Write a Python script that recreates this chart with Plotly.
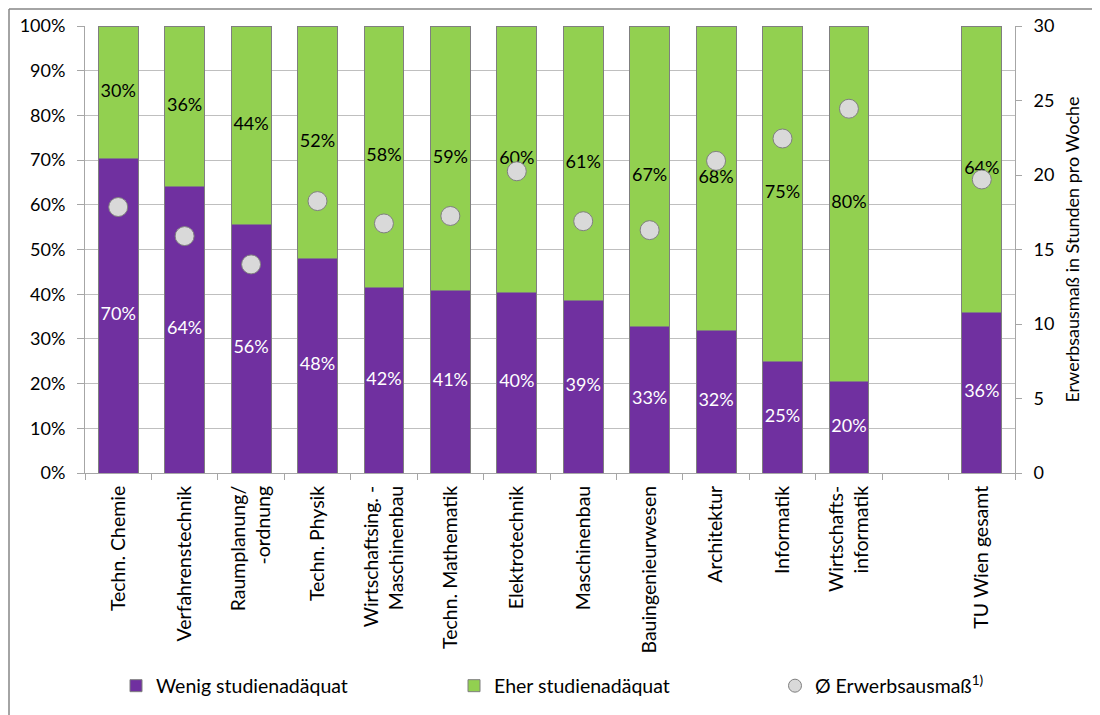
import plotly.graph_objects as go

categories = ["Techn. Chemie", "Verfahrenstechnik", "Raumplanung/<br>-ordnung", "Techn. Physik",
              "Wirtschaftsing. -<br>Maschinenbau", "Techn. Mathematik", "Elektrotechnik",
              "Maschinenbau", "Bauingenieurwesen", "Architektur", "Informatik",
              "Wirtschafts-<br>informatik", " ", "TU Wien gesamt"]
wenig = [70.4, 64.2, 55.5, 48.0, 41.6, 40.8, 40.3, 38.7, 32.8, 31.9, 25.0, 20.4, None, 36.0]
wenig_labels = ["70%", "64%", "56%", "48%", "42%", "41%", "40%", "39%", "33%", "32%", "25%", "20%", "", "36%"]
eher_labels = ["30%", "36%", "44%", "52%", "58%", "59%", "60%", "61%", "67%", "68%", "75%", "80%", "", "64%"]
erwerb = [17.85, 15.9, 14.0, 18.25, 16.75, 17.25, 20.25, 16.9, 16.3, 20.95, 22.45, 24.45, None, 19.7]

eher = [None if w is None else 100 - w for w in wenig]
purple = "#7030A0"
green = "#92D050"
edge = "#7F7F7F"
axc = "#A6A6A6"
FONT = "Lato"

fig = go.Figure()
fig.add_trace(go.Bar(x=categories, y=wenig, name="Wenig studienadäquat", legend="legend",
                     marker=dict(color=purple, line=dict(color=edge, width=1)),
                     hoverinfo="skip"))
fig.add_trace(go.Bar(x=categories, y=eher, name="Eher studienadäquat", legend="legend2",
                     marker=dict(color=green, line=dict(color=edge, width=1)),
                     hoverinfo="skip"))

# data labels centered in the segments
wmid = [None if w is None else w / 2 for w in wenig]
emid = [None if w is None else w + (100 - w) / 2 for w in wenig]
fig.add_trace(go.Scatter(x=categories, y=wmid, mode="text", text=wenig_labels,
                         textfont=dict(color="white", size=18, family=FONT),
                         showlegend=False, hoverinfo="skip"))
fig.add_trace(go.Scatter(x=categories, y=emid, mode="text", text=eher_labels,
                         textfont=dict(color="black", size=18, family=FONT),
                         showlegend=False, hoverinfo="skip"))

fig.add_trace(go.Scatter(x=categories, y=erwerb, mode="markers", yaxis="y2",
                         marker=dict(size=19, color="#D9D9D9", line=dict(color="#808080", width=1)),
                         showlegend=False, name="Ø Erwerbsausmaß"))
# legend entry for the markers
fig.add_trace(go.Scatter(x=[None], y=[None], mode="markers", yaxis="y2", legend="legend3",
                         name="Ø Erwerbsausmaß<sup>1)</sup>",
                         marker=dict(size=13, color="#D9D9D9", line=dict(color="#808080", width=1))))

# page body has an 8px margin: figure coords = screen coords - 8
OFF = 8
W, H = 1100, 715
SL, SR, ST, SB = 85, 1015, 26, 473   # plot area in screen pixels
L, T = SL - OFF, ST - OFF
R = W - (SR - OFF)
B = H - (SB - OFF)
pw, ph = W - L - R, H - T - B

def px_x(p):
    return (p - OFF - L) / pw

def px_y(p):
    return (H - B - (p - OFF)) / ph

leg_common = dict(orientation="h", xanchor="left", y=px_y(686), yanchor="middle", itemwidth=30,
                  font=dict(size=19.5, family=FONT), bgcolor="rgba(0,0,0,0)")

fig.update_layout(
    width=W, height=H,
    margin=dict(l=L, r=R, t=T, b=B, autoexpand=False),
    paper_bgcolor="white", plot_bgcolor="white",
    barmode="stack", bargap=0.4,
    font=dict(family=FONT, size=18, color="black"),
    xaxis=dict(type="category", range=[-0.5, len(categories) - 0.5], tickson="boundaries",
               ticks="outside", ticklen=6,
               tickcolor=axc, showline=True, linecolor=axc, tickangle=-90,
               tickfont=dict(size=19.5), showgrid=False, fixedrange=True, automargin=False,
               ticklabelstandoff=4),
    yaxis=dict(range=[0, 100], dtick=10, ticksuffix="%", ticks="outside", ticklen=7,
               tickcolor=axc, showline=True, linecolor=axc, automargin=False,
               gridcolor="#BFBFBF", gridwidth=1, zeroline=False, tickfont=dict(size=18),
               ticklabelstandoff=8),
    yaxis2=dict(range=[0, 30], dtick=5, overlaying="y", side="right", ticks="outside",
                ticklen=6, tickcolor=axc, showline=True, linecolor=axc, automargin=False,
                showgrid=False, zeroline=False, tickfont=dict(size=18), ticklabelstandoff=8,
                title=dict(text="Erwerbsausmaß in Stunden pro Woche", font=dict(size=18), standoff=12)),
    legend=dict(x=px_x(116), **leg_common),
    legend2=dict(x=px_x(454), **leg_common),
    legend3=dict(x=px_x(775), **leg_common),
    shapes=[
        dict(type="line", xref="paper", yref="paper", x0=px_x(9), x1=px_x(9), y0=px_y(9), y1=px_y(730),
             line=dict(color="#868686", width=1.5)),
        dict(type="line", xref="paper", yref="paper", x0=px_x(9), x1=px_x(1115), y0=px_y(9), y1=px_y(9),
             line=dict(color="#868686", width=1.5)),
    ],
)

fig.write_html("out.html")
